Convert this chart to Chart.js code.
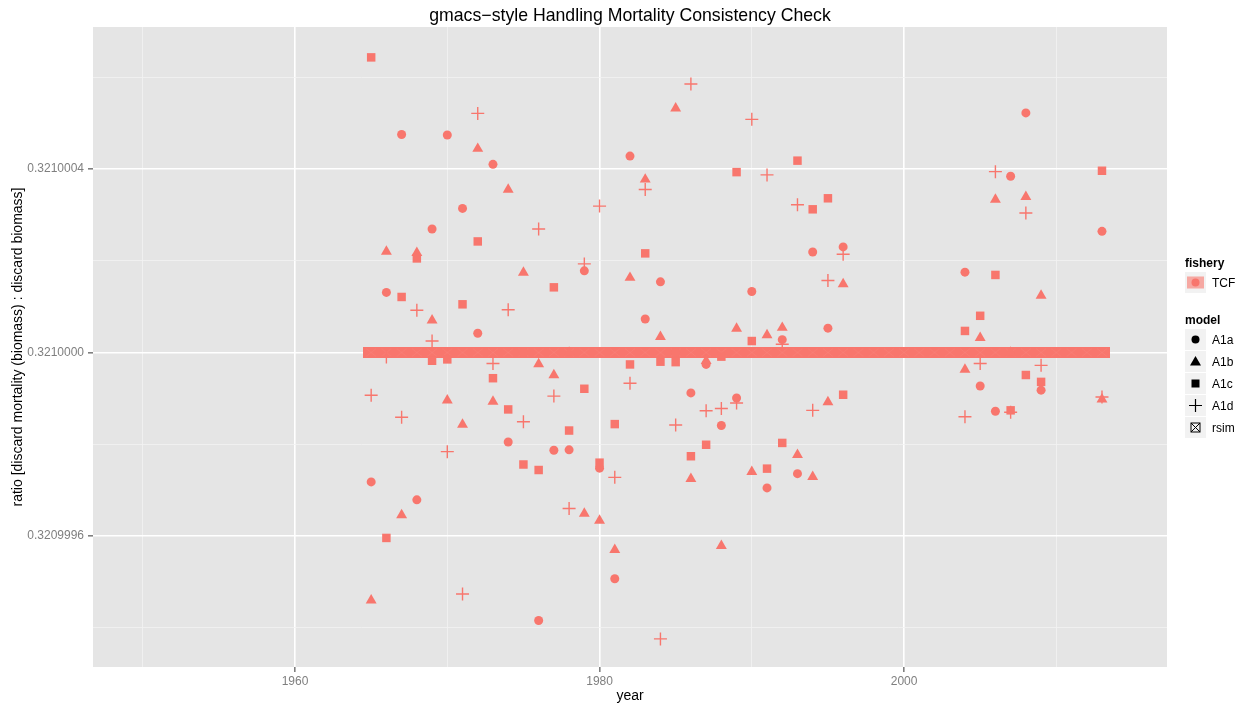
<!DOCTYPE html>
<html>
<head>
<meta charset="utf-8">
<title>Handling mortality consistency</title>
<script src="https://cdn.jsdelivr.net/npm/chart.js@4.4.1/dist/chart.umd.min.js"></script>
<style>
  body { margin: 0; background: #fff; }
  #wrap { position: relative; width: 1239px; height: 707px; }
  #legend { position: absolute; left: 0; top: 0; width: 1239px; height: 707px; pointer-events: none;
            font-family: "Liberation Sans", Arial, sans-serif; font-size: 12px; color: #000; }
  .ltitle { position: absolute; left: 1185px; font-weight: bold; font-size: 12px; line-height: 14px; }
  .key { position: absolute; left: 1185px; width: 21px; height: 21px; background: #F2F2F2; }
  .key svg { display: block; }
  .lab { position: absolute; left: 1212px; font-size: 12px; line-height: 14px; }
</style>
</head>
<body>
<div id="wrap">
  <canvas id="chart" width="1239" height="707"></canvas>
  <div id="legend"></div>
</div>
<script>
const SALMON = '#F8766D';
const FONT = '"Liberation Sans", Arial, sans-serif';

// years with fitted model values
const years = [1965, 1966, 1967, 1968, 1969, 1970, 1971, 1972, 1973, 1974, 1975, 1976,
  1977, 1978, 1979, 1980, 1981, 1982, 1983, 1984, 1985, 1986, 1987, 1988, 1989, 1990,
  1991, 1992, 1993, 1994, 1995, 1996, 2004, 2005, 2006, 2007, 2008, 2009, 2013];

const ratioA1a = [0.320999718, 0.321000131, 0.321000475, 0.320999679, 0.321000269, 0.321000474,
  0.321000314, 0.321000042, 0.321000410, 0.320999805, 0.321, 0.320999416, 0.320999787,
  0.320999788, 0.321000178, 0.320999748, 0.320999507, 0.321000428, 0.321000073, 0.321000154,
  0.321, 0.320999912, 0.320999974, 0.320999841, 0.320999901, 0.321000133, 0.320999705,
  0.321000028, 0.320999736, 0.321000219, 0.321000053, 0.321000230, 0.321000175, 0.320999927,
  0.320999872, 0.321000384, 0.321000522, 0.320999918, 0.321000264];

const ratioA1b = [0.320999460, 0.321000220, 0.320999646, 0.321000217, 0.321000070, 0.320999896,
  0.320999843, 0.321000444, 0.320999893, 0.321000355, 0.321000174, 0.320999975, 0.320999951,
  0.321, 0.320999649, 0.320999634, 0.320999570, 0.321000163, 0.321000377, 0.321000034,
  0.321000532, 0.320999725, 0.320999982, 0.320999579, 0.321000052, 0.320999740, 0.321000038,
  0.321000054, 0.320999777, 0.320999729, 0.320999892, 0.321000149, 0.320999963, 0.321000032,
  0.321000333, 0.321, 0.321000339, 0.321000124, 0.320999898];

const ratioA1c = [0.321000643, 0.320999596, 0.321000121, 0.321000205, 0.320999982, 0.320999985,
  0.321000105, 0.321000242, 0.320999944, 0.320999876, 0.320999756, 0.320999744, 0.321000142,
  0.320999830, 0.320999921, 0.320999760, 0.320999844, 0.320999974, 0.321000216, 0.320999980,
  0.320999979, 0.320999774, 0.320999799, 0.320999991, 0.321000393, 0.321000025, 0.320999747,
  0.320999803, 0.321000418, 0.321000312, 0.321000336, 0.320999908, 0.321000047, 0.321000080,
  0.321000169, 0.320999874, 0.320999951, 0.320999936, 0.321000396];

const ratioA1d = [0.320999907, 0.320999990, 0.320999859, 0.321000092, 0.321000025, 0.320999784,
  0.320999474, 0.321000521, 0.320999976, 0.321000093, 0.320999849, 0.321000269, 0.320999905,
  0.320999660, 0.321000193, 0.321000319, 0.320999728, 0.320999933, 0.321000355, 0.320999376,
  0.320999842, 0.321000585, 0.320999873, 0.320999878, 0.320999890, 0.321000508, 0.321000387,
  0.321000018, 0.321000322, 0.320999874, 0.321000157, 0.321000214, 0.320999860, 0.320999976,
  0.321000394, 0.320999870, 0.321000304, 0.320999972, 0.320999903];

// rsim runs every year of the series
const rsimYears = [1965, 1966, 1967, 1968, 1969, 1970, 1971, 1972, 1973, 1974, 1975, 1976,
  1977, 1978, 1979, 1980, 1981, 1982, 1983, 1984, 1985, 1986, 1987, 1988, 1989, 1990, 1991,
  1992, 1993, 1994, 1995, 1996, 1997, 1998, 1999, 2000, 2001, 2002, 2003, 2004, 2005, 2006,
  2007, 2008, 2009, 2010, 2011, 2012, 2013];
const rsimRatio = [0.321, 0.321, 0.321, 0.321, 0.321, 0.321, 0.321, 0.321, 0.321, 0.321,
  0.321, 0.321, 0.321, 0.321, 0.321, 0.321, 0.321, 0.321, 0.321, 0.321, 0.321, 0.321, 0.321,
  0.321, 0.321, 0.321, 0.321, 0.321, 0.321, 0.321, 0.321, 0.321, 0.321, 0.321, 0.321, 0.321,
  0.321, 0.321, 0.321, 0.321, 0.321, 0.321, 0.321, 0.321, 0.321, 0.321, 0.321, 0.321, 0.321];

// axes
const xTickValues = [1950, 1960, 1970, 1980, 1990, 2000, 2010];
const xTickLabels = ['', '1960', '', '1980', '', '2000', ''];
const yTickValues = [0.3209994, 0.3209996, 0.3209998, 0.3210000, 0.3210002, 0.3210004, 0.3210006];
const yTickLabels = ['', '0.3209996', '', '0.3210000', '', '0.3210004', ''];
const X_MIN = 1946.73, X_MAX = 2017.27;
const Y_MIN = 0.3209993148, Y_MAX = 0.3210007092;

const TITLE = 'gmacs\u2212style Handling Mortality Consistency Check';
const X_TITLE = 'year';
const Y_TITLE = 'ratio [discard mortality (biomass) : discard biomass]';

function pts(xs, ys) {
  return xs.map((x, i) => ({ x: x, y: ys[i] }));
}

// crossed-square drawn solid and a little wider than a year, so the run reads as one bar
function rsimMarker() {
  const c = document.createElement('canvas');
  c.width = 16; c.height = 11;
  const g = c.getContext('2d');
  g.fillStyle = SALMON;
  g.fillRect(0, 0, 16, 11);
  g.strokeStyle = 'rgba(255,255,255,0.06)';
  g.lineWidth = 1;
  g.beginPath();
  g.moveTo(3, 1.5); g.lineTo(13, 9.5);
  g.moveTo(13, 1.5); g.lineTo(3, 9.5);
  g.stroke();
  return c;
}

const panel = {
  id: 'panel',
  beforeDraw(chart) {
    const { ctx, chartArea: a } = chart;
    ctx.save();
    ctx.fillStyle = '#E5E5E5';
    ctx.fillRect(a.left, a.top, a.right - a.left, a.bottom - a.top);
    ctx.restore();
  },
  afterDraw(chart) {
    const { ctx, chartArea: a } = chart;
    const cx = (a.left + a.right) / 2;
    ctx.save();
    ctx.fillStyle = '#000';
    ctx.textAlign = 'center';
    ctx.textBaseline = 'middle';
    ctx.font = '17.7px ' + FONT;
    ctx.fillText(TITLE, cx, 16);
    ctx.font = '14px ' + FONT;
    ctx.fillText(X_TITLE, cx, 696);
    ctx.translate(18, (a.top + a.bottom) / 2);
    ctx.rotate(-Math.PI / 2);
    ctx.fillText(Y_TITLE, 0, 0);
    ctx.restore();
  }
};

const isMajor = labels => c => c.tick && labels[c.index] !== '';

function gridFor(labels) {
  const major = isMajor(labels);
  return {
    color: c => major(c) ? '#FFFFFF' : '#F2F2F2',
    lineWidth: c => major(c) ? 1.6 : 0.8,
    tickColor: c => major(c) ? '#7F7F7F' : 'rgba(0,0,0,0)',
    tickLength: 5,
    drawTicks: true
  };
}

const base = { borderColor: SALMON, backgroundColor: SALMON, showLine: false };

new Chart(document.getElementById('chart'), {
  type: 'scatter',
  data: {
    datasets: [
      Object.assign({ label: 'A1a', data: pts(years, ratioA1a), pointStyle: 'circle', pointRadius: 4.5, borderWidth: 0 }, base),
      Object.assign({ label: 'A1b', data: pts(years, ratioA1b), pointStyle: 'triangle', pointRadius: 6.3, borderWidth: 0 }, base),
      Object.assign({ label: 'A1c', data: pts(years, ratioA1c), pointStyle: 'rect', pointRadius: 6, borderWidth: 0 }, base),
      Object.assign({ label: 'A1d', data: pts(years, ratioA1d), pointStyle: 'cross', pointRadius: 6.5, borderWidth: 1.4 }, base),
      Object.assign({ label: 'rsim', data: pts(rsimYears, rsimRatio), pointStyle: rsimMarker(), pointRadius: 7 }, base)
    ]
  },
  options: {
    responsive: false,
    animation: false,
    events: [],
    layout: { padding: { top: 27, right: 72, left: 0, bottom: 0 } },
    plugins: { legend: { display: false }, tooltip: { enabled: false } },
    scales: {
      x: {
        type: 'linear', min: X_MIN, max: X_MAX,
        afterBuildTicks: s => { s.ticks = xTickValues.map(v => ({ value: v })); },
        afterFit: s => { s.height = 40; },
        grid: gridFor(xTickLabels),
        border: { display: false },
        ticks: {
          autoSkip: false, maxRotation: 0, padding: 2,
          color: '#7F7F7F', font: { family: FONT, size: 12 },
          callback: (v, i) => xTickLabels[i]
        }
      },
      y: {
        type: 'linear', min: Y_MIN, max: Y_MAX,
        afterBuildTicks: s => { s.ticks = yTickValues.map(v => ({ value: v })); },
        afterFit: s => { s.width = 93; },
        grid: gridFor(yTickLabels),
        border: { display: false },
        ticks: {
          autoSkip: false, padding: 4,
          color: '#7F7F7F', font: { family: FONT, size: 12 },
          callback: (v, i) => yTickLabels[i]
        }
      }
    }
  },
  plugins: [panel]
});

// ggplot-style legend on the right
const legendRows = [
  { type: 'title', text: 'fishery', top: 256 },
  { type: 'key', shape: 'fill', text: 'TCF', top: 272 },
  { type: 'title', text: 'model', top: 313 },
  { type: 'key', shape: 'circle', text: 'A1a', top: 329 },
  { type: 'key', shape: 'triangle', text: 'A1b', top: 351 },
  { type: 'key', shape: 'square', text: 'A1c', top: 373 },
  { type: 'key', shape: 'plus', text: 'A1d', top: 395 },
  { type: 'key', shape: 'crossbox', text: 'rsim', top: 417 }
];

const glyphs = {
  fill: '<rect x="2" y="4.5" width="17" height="12" fill="rgba(248,118,109,0.6)"/><circle cx="10.5" cy="10.5" r="4" fill="' + SALMON + '"/>',
  circle: '<circle cx="10.5" cy="10.5" r="4" fill="#000"/>',
  triangle: '<polygon points="10.5,5 16,14.5 5,14.5" fill="#000"/>',
  square: '<rect x="6.5" y="6.5" width="8" height="8" fill="#000"/>',
  plus: '<path d="M4 10.5 H17 M10.5 4 V17" stroke="#000" stroke-width="1.2"/>',
  crossbox: '<rect x="6" y="6" width="9" height="9" fill="none" stroke="#000" stroke-width="1"/><path d="M6 6 L15 15 M15 6 L6 15" stroke="#000" stroke-width="1"/>'
};

const legend = document.getElementById('legend');
legendRows.forEach(r => {
  if (r.type === 'title') {
    const t = document.createElement('div');
    t.className = 'ltitle';
    t.style.top = r.top + 'px';
    t.textContent = r.text;
    legend.appendChild(t);
  } else {
    const k = document.createElement('div');
    k.className = 'key';
    k.style.top = r.top + 'px';
    k.innerHTML = '<svg width="21" height="21" viewBox="0 0 21 21">' + glyphs[r.shape] + '</svg>';
    legend.appendChild(k);
    const l = document.createElement('div');
    l.className = 'lab';
    l.style.top = (r.top + 4) + 'px';
    l.textContent = r.text;
    legend.appendChild(l);
  }
});
</script>
</body>
</html>
